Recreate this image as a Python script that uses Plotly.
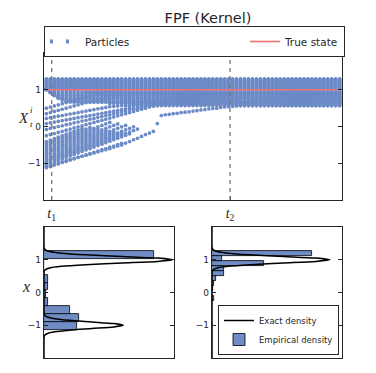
import plotly.graph_objects as go

# ---------------- data ----------------
n_steps = 75                      # time columns drawn in the top panel
steps = list(range(n_steps))
t1 = 1.35
t2 = 46.35
true_state = 1.0

# particles that stay in the upper mode
band_levels = [1.30, 1.28, 1.26, 1.24, 1.22, 1.20, 1.18, 1.15, 1.13, 1.11, 1.09, 1.07, 1.04, 1.02]

# upper particles that spread down into the band, then hold their last value
drift_paths = [
    [1.01, 0.97, 0.95],
    [1.03, 0.96, 0.92, 0.90],
    [1.00, 0.94, 0.89, 0.86, 0.85],
    [1.02, 0.95, 0.88, 0.83, 0.80],
    [1.01, 0.93, 0.86, 0.80, 0.77, 0.76],
    [1.04, 0.96, 0.88, 0.81, 0.76, 0.73, 0.72],
    [1.00, 0.92, 0.84, 0.77, 0.72, 0.69, 0.68],
    [1.02, 0.93, 0.85, 0.78, 0.73, 0.69, 0.67, 0.66],
]

# particles starting between the modes and rising slowly
rising_paths = [
    [0.50, 0.53, 0.56, 0.59, 0.62, 0.65, 0.68, 0.71, 0.74, 0.77, 0.80, 0.83, 0.86, 0.89, 0.92, 0.95],
    [0.35, 0.38, 0.41, 0.44, 0.47, 0.50, 0.53, 0.56, 0.59, 0.62, 0.65, 0.68, 0.71, 0.74, 0.77, 0.80,
     0.83, 0.86, 0.89],
    [0.22, 0.24, 0.26, 0.28, 0.30, 0.32, 0.34, 0.36, 0.38, 0.40, 0.42, 0.44, 0.46, 0.48, 0.50, 0.52,
     0.54, 0.55, 0.56, 0.57, 0.58, 0.58, 0.59, 0.59, 0.60, 0.60, 0.61, 0.62],
    [0.08, 0.10, 0.12, 0.14, 0.16, 0.18, 0.20, 0.22, 0.24, 0.26, 0.28, 0.30, 0.32, 0.34, 0.36, 0.38,
     0.40, 0.42, 0.44, 0.46, 0.48, 0.50, 0.51, 0.52, 0.53, 0.54, 0.55, 0.56, 0.57, 0.58, 0.59, 0.60,
     0.61, 0.62, 0.63, 0.64, 0.65],
    [-0.08, -0.05, -0.03, 0.00, 0.02, 0.05, 0.07, 0.10, 0.12, 0.15, 0.17, 0.20, 0.22, 0.25, 0.27, 0.30,
     0.32, 0.35, 0.37, 0.40, 0.42, 0.45, 0.47, 0.50, 0.52, 0.55, 0.57, 0.60, 0.62, 0.65, 0.68, 0.70,
     0.72, 0.75],
    [-0.25, -0.22, -0.19, -0.16, -0.13, -0.10, -0.07, -0.04, -0.01, 0.02, 0.05, 0.08, 0.11, 0.14, 0.17,
     0.20, 0.23, 0.26, 0.29, 0.32, 0.35, 0.38, 0.41, 0.44, 0.47, 0.50, 0.53, 0.56, 0.59, 0.62, 0.65,
     0.68, 0.71, 0.74, 0.77, 0.80],
]

# lower-mode fan: rises, then jumps into the band
fan_paths = [
    [-1.04, -1.00, -0.96, -0.92, -0.88, -0.84, -0.80, -0.76, -0.72, -0.68, -0.64, -0.60, -0.56, -0.52,
     -0.48, -0.44, -0.40, -0.36, -0.32, -0.28, -0.24, -0.20, 0.60],
    [-0.99, -0.95, -0.91, -0.87, -0.83, -0.79, -0.75, -0.71, -0.67, -0.63, -0.59, -0.55, -0.51, -0.47,
     -0.43, -0.39, -0.35, -0.31, -0.27, -0.23, -0.19, -0.15, -0.11, -0.07, 0.66],
    [-0.94, -0.90, -0.86, -0.82, -0.78, -0.74, -0.70, -0.66, -0.62, -0.58, -0.54, -0.50, -0.46, -0.42,
     -0.38, -0.34, -0.30, -0.26, -0.22, -0.18, 0.72],
    [-0.89, -0.85, -0.81, -0.77, -0.73, -0.69, -0.65, -0.61, -0.57, -0.53, -0.49, -0.45, -0.41, -0.37,
     -0.33, -0.29, -0.25, -0.21, -0.17, -0.13, -0.09, -0.05, -0.01, 0.78],
    [-0.83, -0.79, -0.75, -0.71, -0.67, -0.63, -0.59, -0.55, -0.51, -0.47, -0.43, -0.39, -0.35, -0.31,
     -0.27, -0.23, -0.19, -0.15, 0.84],
    [-0.77, -0.73, -0.69, -0.65, -0.61, -0.57, -0.53, -0.49, -0.45, -0.41, -0.37, -0.33, -0.29, -0.25,
     -0.21, -0.17, -0.13, -0.09, -0.05, -0.01, 0.03, 0.90],
    [-0.71, -0.67, -0.63, -0.59, -0.55, -0.51, -0.47, -0.43, -0.39, -0.35, -0.31, -0.27, -0.23, -0.19,
     -0.15, -0.11, 0.63],
    [-0.65, -0.61, -0.57, -0.53, -0.49, -0.45, -0.41, -0.37, -0.33, -0.29, -0.25, -0.21, -0.17, -0.13,
     -0.09, -0.05, -0.01, 0.03, 0.07, 0.69],
    [-0.59, -0.55, -0.51, -0.47, -0.43, -0.39, -0.35, -0.31, -0.27, -0.23, -0.19, -0.15, -0.11, -0.07,
     0.75],
    [-0.53, -0.49, -0.45, -0.41, -0.37, -0.33, -0.29, -0.25, -0.21, -0.17, -0.13, -0.09, -0.05, -0.01,
     0.03, 0.07, 0.11, 0.81],
    [-0.47, -0.43, -0.39, -0.35, -0.31, -0.27, -0.23, -0.19, -0.15, -0.11, -0.07, -0.03, 0.87],
    [-0.41, -0.37, -0.33, -0.29, -0.25, -0.21, -0.17, -0.13, -0.09, -0.05, 0.93],
]

# the two lowest trajectories
lowest_paths = [
    [-1.12, -1.09, -1.05, -1.02, -0.98, -0.95, -0.91, -0.88, -0.84, -0.81, -0.77, -0.74, -0.70, -0.67,
     -0.63, -0.60, -0.56, -0.53, -0.49, -0.46, 0.57],
    [-1.08, -1.05, -1.02, -0.99, -0.96, -0.93, -0.90, -0.87, -0.84, -0.81, -0.78, -0.75, -0.72, -0.69,
     -0.66, -0.63, -0.60, -0.56, -0.53, -0.50, -0.45, -0.41, -0.36, -0.32, -0.27, -0.22, -0.18, -0.13,
     0.08, 0.30, 0.32, 0.33, 0.35, 0.36, 0.38, 0.39, 0.40, 0.42, 0.43, 0.45, 0.46, 0.48, 0.49, 0.50,
     0.52, 0.53, 0.54, 0.55, 0.56, 0.57],
]

# histogram at t1
left_edges = [-1.130, -0.891, -0.653, -0.414, -0.176, 0.063, 0.302, 0.540, 0.779, 1.017, 1.256]
left_density = [0.63, 0.67, 0.50, 0.08, 0.04, 0.08, 0.08, 0.0, 0.0, 2.10]
# histogram at t2
right_edges = [-0.264, -0.110, 0.044, 0.198, 0.353, 0.507, 0.661, 0.815, 0.969, 1.123, 1.277]
right_density = [0.065, 0.0, 0.03, 0.065, 0.13, 0.39, 0.39, 1.75, 0.33, 3.37]

# exact densities
curve_left_y = [-2.0, -1.4, -1.35, -1.3, -1.25, -1.2, -1.15, -1.1, -1.05, -1.0, -0.95, -0.9, -0.85,
                -0.8, -0.75, -0.7, -0.65, -0.6, 0.0, 0.6, 0.65, 0.7, 0.75, 0.8, 0.85, 0.9, 0.95, 1.0,
                1.05, 1.1, 1.15, 1.2, 1.25, 1.3, 1.35, 1.4, 2.0]
curve_left_x = [0.0, 0.0005, 0.003, 0.017, 0.067, 0.206, 0.49, 0.92, 1.34, 1.52, 1.34, 0.92, 0.49,
                0.206, 0.067, 0.017, 0.003, 0.0005, 0.0, 0.001, 0.005, 0.027, 0.108, 0.334, 0.80, 1.50,
                2.18, 2.47, 2.18, 1.50, 0.80, 0.334, 0.108, 0.027, 0.005, 0.001, 0.0]
curve_right_y = [-2.0, 0.0, 0.6, 0.65, 0.7, 0.75, 0.8, 0.85, 0.9, 0.95, 1.0, 1.05, 1.1, 1.15, 1.2,
                 1.25, 1.3, 1.35, 1.4, 2.0]
curve_right_x = [0.0, 0.0, 0.001, 0.009, 0.044, 0.175, 0.54, 1.30, 2.42, 3.52, 3.99, 3.52, 2.42, 1.30,
                 0.54, 0.175, 0.044, 0.009, 0.001, 0.0]

left_xmax = 2.49
right_xmax = 4.40

ticks_y = [-1, 0, 1]
ticks_y_text = ["\u22121", "0", "1"]

# ---------------- styling ----------------
# the page body has an 8 px margin: the figure is placed at (8, 8)
OFF = 8
W, H = 360, 357
BLUE = "#6b8ac6"
BAR = "#6f8dc4"
RED = "#ee7074"
INK = "#262626"
SANS = "DejaVu Sans"
SERIF = "Liberation Serif"


def px_x(v):
    return (v - OFF) / W


def px_y(v):
    return 1 - (v - OFF) / H


fig = go.Figure()

# particles
xs, ys = [], []
all_paths = [[lv] for lv in band_levels] + drift_paths + rising_paths + fan_paths + lowest_paths
for p in all_paths:
    full = p + [p[-1]] * (n_steps - len(p))
    xs.extend(steps)
    ys.extend(full)
fig.add_trace(go.Scatter(x=xs, y=ys, mode="markers", showlegend=False, hoverinfo="skip",
                         marker=dict(size=3.7, color=BLUE, line=dict(width=0)),
                         xaxis="x", yaxis="y"))
# legend proxy for particles (dotted sample)
fig.add_trace(go.Scatter(x=[None], y=[None], mode="lines", name="Particles", legendwidth=155,
                         line=dict(color=BLUE, width=4, dash="3px,13px"),
                         xaxis="x", yaxis="y", legend="legend"))
# true state
fig.add_trace(go.Scatter(x=[steps[0], steps[-1]], y=[true_state, true_state], mode="lines",
                         name="True state", line=dict(color=RED, width=1.6),
                         xaxis="x", yaxis="y", legend="legend"))

# exact densities
fig.add_trace(go.Scatter(x=curve_left_x, y=curve_left_y, mode="lines", name="Exact density",
                         line=dict(color="black", width=1.5, shape="spline", smoothing=0.8),
                         xaxis="x2", yaxis="y2", showlegend=False))
fig.add_trace(go.Scatter(x=curve_right_x, y=curve_right_y, mode="lines", name="Exact density",
                         line=dict(color="black", width=1.5, shape="spline", smoothing=0.8),
                         xaxis="x3", yaxis="y3", legend="legend2"))

# empirical densities
lc = [(a + b) / 2 for a, b in zip(left_edges[:-1], left_edges[1:])]
lw = [b - a for a, b in zip(left_edges[:-1], left_edges[1:])]
rc = [(a + b) / 2 for a, b in zip(right_edges[:-1], right_edges[1:])]
rw = [b - a for a, b in zip(right_edges[:-1], right_edges[1:])]
fig.add_trace(go.Bar(y=lc, x=left_density, width=lw, orientation="h", name="Empirical density",
                     marker=dict(color=BAR, line=dict(color="black", width=0.8)),
                     xaxis="x2", yaxis="y2", showlegend=False))
fig.add_trace(go.Bar(y=rc, x=right_density, width=rw, orientation="h", name="Empirical density",
                     marker=dict(color=BAR, line=dict(color="black", width=0.8)),
                     xaxis="x3", yaxis="y3", legend="legend2"))

axis_common = dict(showline=True, linecolor=INK, linewidth=1.3, mirror="ticks", showgrid=False,
                   zeroline=False, tickcolor=INK, ticklen=4, tickwidth=1,
                   tickfont=dict(family=SANS, size=9, color=INK))

yax = dict(axis_common, range=[-2, 2], ticks="inside", tickvals=ticks_y, ticktext=ticks_y_text)


def label(text, x, y, size):
    return dict(text=text, x=px_x(x), y=px_y(y), xref="paper", yref="paper",
                xanchor="center", yanchor="middle", showarrow=False, borderpad=0,
                font=dict(family=SERIF, size=size, color=INK))


fig.update_layout(
    width=W, height=H,
    margin=dict(l=0, r=0, t=0, b=0),
    paper_bgcolor="white", plot_bgcolor="white",
    barmode="overlay", bargap=0,
    font=dict(family=SANS, color=INK),
    title=dict(text="FPF (Kernel)", x=px_x(208), xanchor="center", y=px_y(18), yanchor="middle",
               font=dict(family=SANS, size=14.5, color=INK)),
    xaxis=dict(axis_common, domain=[px_x(44), px_x(342)], range=[-0.6, 74.6], anchor="y",
               ticks="inside", tickvals=[t1, t2],
               ticktext=["<i>t</i><sub>1</sub>", "<i>t</i><sub>2</sub>"],
               tickfont=dict(family=SERIF, size=14, color=INK)),
    yaxis=dict(yax, domain=[px_y(200), px_y(53)], anchor="x"),
    xaxis2=dict(axis_common, domain=[px_x(44), px_x(174)], range=[0, left_xmax], anchor="y2",
                ticks="", showticklabels=False),
    yaxis2=dict(yax, domain=[px_y(358), px_y(227)], anchor="x2"),
    xaxis3=dict(axis_common, domain=[px_x(212), px_x(342)], range=[0, right_xmax], anchor="y3",
                ticks="", showticklabels=False),
    yaxis3=dict(yax, domain=[px_y(358), px_y(227)], anchor="x3"),
    legend=dict(orientation="h", x=px_x(44), xanchor="left", y=px_y(26), yanchor="top",
                bordercolor=INK, borderwidth=1, bgcolor="white",
                font=dict(family=SANS, size=10.5, color=INK), itemclick=False),
    legend2=dict(orientation="v", x=px_x(339), xanchor="right", y=px_y(355), yanchor="bottom",
                 bordercolor=INK, borderwidth=1, bgcolor="white",
                 font=dict(family=SANS, size=8.5, color=INK), tracegroupgap=0, itemclick=False),
    annotations=[
        label("<i>X</i>", 23, 118, 15),
        label("<i>i</i>", 31.5, 110, 9),
        label("<i>t</i>", 31.5, 124, 9),
        label("<i>x</i>", 25.5, 286, 16),
    ],
    shapes=[
        dict(type="line", xref="x", yref="y domain", x0=t1, x1=t1, y0=0, y1=1, layer="above",
             line=dict(color="#777777", width=1.3, dash="4px,4px")),
        dict(type="line", xref="x", yref="y domain", x0=t2, x1=t2, y0=0, y1=1, layer="above",
             line=dict(color="#777777", width=1.3, dash="4px,4px")),
    ],
)

fig.write_html("out.html")
